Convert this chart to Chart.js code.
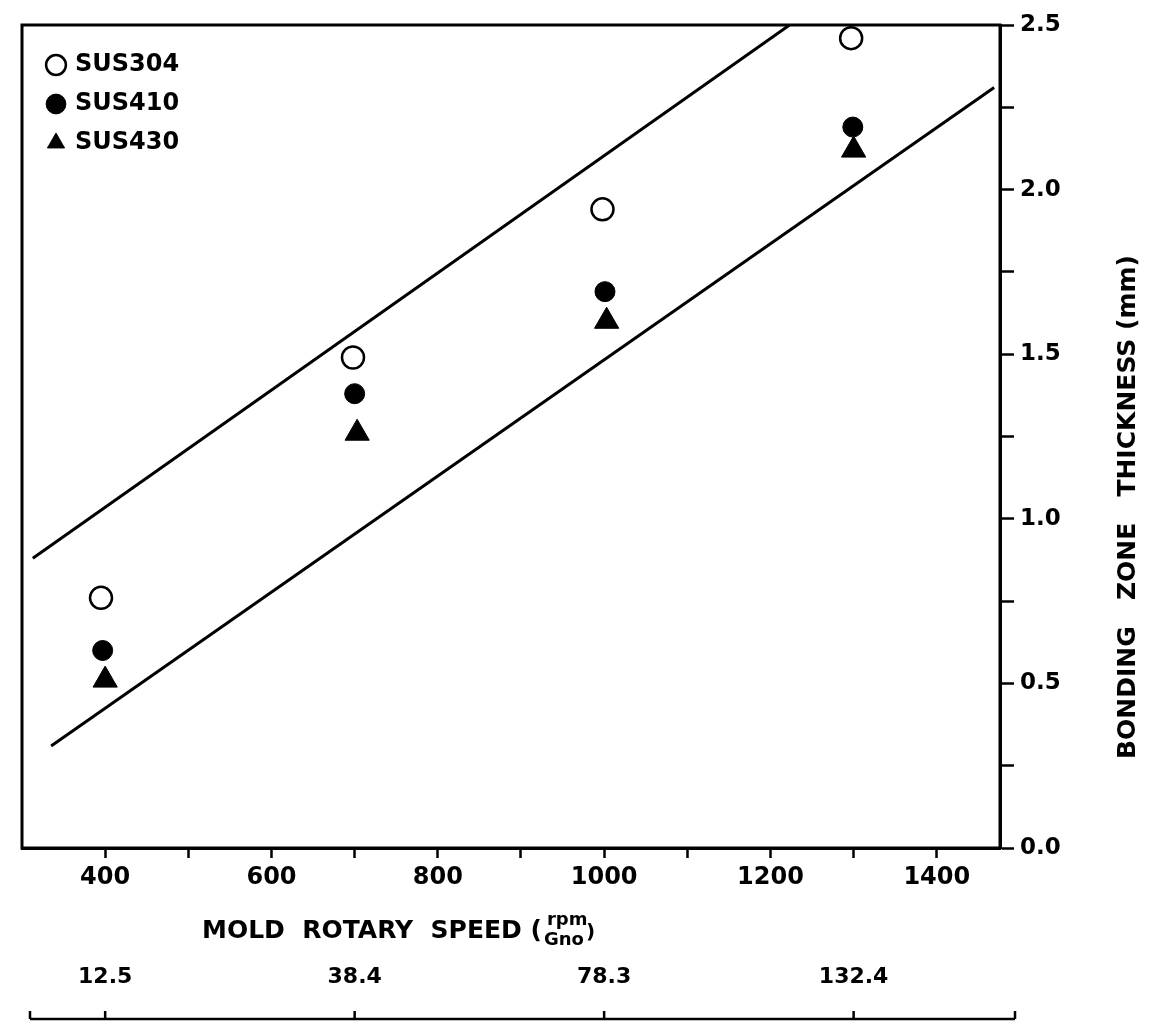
<!DOCTYPE html>
<html lang="en">
<head>
    <meta charset="UTF-8">
    <title>Bonding zone thickness vs mold rotary speed</title>
    <script src="https://cdn.jsdelivr.net/npm/chart.js"></script>
    <style>
        body {
            margin: 0;
            padding: 0;
            background-color: #ffffff;
        }
        canvas {
            display: block;
        }
    </style>
</head>
<body>
    <canvas id="thicknessChart" width="1164" height="1024"></canvas>

    <script>
        // Mold rotary speed (rpm) ticks; every other one gets a label
        const rpmTicks = [400, 500, 600, 700, 800, 900, 1000, 1100, 1200, 1300, 1400];
        const rpmLabelled = [400, 600, 800, 1000, 1200, 1400];

        // Gno values under the speeds that were tested
        const gnoAt = [400, 700, 1000, 1300];
        const gnoLabels = ['12.5', '38.4', '78.3', '132.4'];

        // Bonding zone thickness (mm) per steel grade
        const sus304X = [395, 698, 998, 1297];
        const sus304Y = [0.76, 1.49, 1.94, 2.46];
        const sus410X = [397, 700, 1001, 1299];
        const sus410Y = [0.60, 1.38, 1.69, 2.19];
        const sus430X = [400, 703, 1003, 1300];
        const sus430Y = [0.51, 1.26, 1.60, 2.12];

        // Upper and lower bounds of the band
        const upperX = [313, 1223];
        const upperY = [0.88, 2.5];
        const lowerX = [335, 1469];
        const lowerY = [0.31, 2.31];

        const FONT = 'DejaVu Sans';

        function toPoints(xs, ys) {
            return xs.map((x, i) => ({ x: x, y: ys[i] }));
        }

        // Legend sits in the top-left corner inside the frame
        const legendSpot = {
            id: 'legendSpot',
            afterLayout(chart) {
                const lg = chart.legend;
                lg.left = 34;
                lg.top = 38;
                lg.right = lg.left + lg.width;
                lg.bottom = lg.top + lg.height;
            }
        };

        // Box around the plot plus the axis titles and the Gno scale line
        const decorations = {
            id: 'decorations',
            afterDraw(chart) {
                const ctx = chart.ctx;
                const area = chart.chartArea;
                const xScale = chart.scales.x;
                const gScale = chart.scales.gno;
                ctx.save();
                ctx.strokeStyle = '#000';
                ctx.lineWidth = 3;
                ctx.strokeRect(area.left, area.top, area.right - area.left, area.bottom - area.top);

                // x title with the rpm / Gno fraction
                ctx.fillStyle = '#000';
                ctx.textBaseline = 'middle';
                ctx.textAlign = 'left';
                ctx.font = 'bold 25px ' + FONT;
                const titleY = xScale.top + 83;
                const mainText = 'MOLD  ROTARY  SPEED (';
                const startX = area.left + 180;
                ctx.fillText(mainText, startX, titleY);
                const fracX = startX + ctx.measureText(mainText).width + 2;
                ctx.font = 'bold 18px ' + FONT;
                ctx.fillText('rpm', fracX + 3, titleY - 11);
                ctx.fillText('Gno', fracX, titleY + 9);
                const fracW = ctx.measureText('Gno').width;
                ctx.font = 'bold 20px ' + FONT;
                ctx.fillText(')', fracX + fracW + 2, titleY + 2);

                // y title, read from bottom to top
                ctx.save();
                ctx.translate(area.right + 128, 507);
                ctx.rotate(-Math.PI / 2);
                ctx.textAlign = 'center';
                ctx.font = 'bold 25px ' + FONT;
                ctx.fillText('BONDING   ZONE   THICKNESS (mm)', 0, 0);
                ctx.restore();

                // Gno scale line with small upward ticks
                const lineY = gScale.bottom + 19;
                const lineLeft = area.left + 8;
                const lineRight = area.right + 15;
                ctx.lineWidth = 2.5;
                ctx.beginPath();
                ctx.moveTo(lineLeft, lineY);
                ctx.lineTo(lineRight, lineY);
                const tickXs = [lineLeft, lineRight].concat(gnoAt.map(v => gScale.getPixelForValue(v)));
                tickXs.forEach(px => {
                    ctx.moveTo(px, lineY);
                    ctx.lineTo(px, lineY - 8);
                });
                ctx.stroke();
                ctx.restore();
            }
        };

        const ctx = document.getElementById('thicknessChart').getContext('2d');
        const chart = new Chart(ctx, {
            type: 'scatter',
            data: {
                datasets: [
                    {
                        label: 'SUS304',
                        data: toPoints(sus304X, sus304Y),
                        pointStyle: 'circle',
                        pointRadius: 11,
                        borderWidth: 2.5,
                        borderColor: '#000',
                        backgroundColor: '#fff'
                    },
                    {
                        label: 'SUS410',
                        data: toPoints(sus410X, sus410Y),
                        pointStyle: 'circle',
                        pointRadius: 10,
                        borderWidth: 1,
                        borderColor: '#000',
                        backgroundColor: '#000'
                    },
                    {
                        label: 'SUS430',
                        data: toPoints(sus430X, sus430Y),
                        pointStyle: 'triangle',
                        pointRadius: 14,
                        borderWidth: 1,
                        borderColor: '#000',
                        backgroundColor: '#000'
                    },
                    {
                        label: 'upper',
                        data: toPoints(upperX, upperY),
                        showLine: true,
                        pointRadius: 0,
                        borderColor: '#000',
                        borderWidth: 3
                    },
                    {
                        label: 'lower',
                        data: toPoints(lowerX, lowerY),
                        showLine: true,
                        pointRadius: 0,
                        borderColor: '#000',
                        borderWidth: 3
                    }
                ]
            },
            options: {
                responsive: false,
                animation: false,
                layout: {
                    padding: { left: 22, top: 25, right: 0, bottom: 24 }
                },
                plugins: {
                    tooltip: { enabled: false },
                    legend: {
                        position: 'chartArea',
                        align: 'start',
                        labels: {
                            usePointStyle: true,
                            boxWidth: 14,
                            boxHeight: 14,
                            padding: 15,
                            color: '#000',
                            font: { family: FONT, size: 24, weight: 'bold' },
                            filter: item => item.datasetIndex < 3
                        }
                    }
                },
                scales: {
                    x: {
                        type: 'linear',
                        position: 'bottom',
                        min: 300,
                        max: 1476,
                        afterBuildTicks: scale => {
                            scale.ticks = rpmTicks.map(v => ({ value: v }));
                        },
                        afterFit: scale => {
                            scale.height = 112;
                        },
                        grid: {
                            drawOnChartArea: false,
                            drawTicks: true,
                            tickLength: 10,
                            tickWidth: 2.5,
                            tickColor: '#000'
                        },
                        border: { color: '#000', width: 3 },
                        ticks: {
                            padding: 5,
                            color: '#000',
                            maxRotation: 0,
                            autoSkip: false,
                            font: { family: FONT, size: 24, weight: 'bold' },
                            callback: v => rpmLabelled.includes(v) ? String(v) : ''
                        }
                    },
                    gno: {
                        type: 'linear',
                        position: 'bottom',
                        min: 300,
                        max: 1476,
                        afterBuildTicks: scale => {
                            scale.ticks = gnoAt.map(v => ({ value: v }));
                        },
                        afterFit: scale => {
                            scale.height = 40;
                        },
                        grid: { display: false, drawTicks: false },
                        border: { display: false },
                        ticks: {
                            padding: 4,
                            color: '#000',
                            maxRotation: 0,
                            autoSkip: false,
                            font: { family: FONT, size: 22, weight: 'bold' },
                            callback: v => gnoLabels[gnoAt.indexOf(v)]
                        }
                    },
                    y: {
                        type: 'linear',
                        position: 'right',
                        min: 0,
                        max: 2.5,
                        afterFit: scale => {
                            scale.width = 164;
                        },
                        grid: {
                            drawOnChartArea: false,
                            drawTicks: true,
                            tickLength: 14,
                            tickWidth: 2.5,
                            tickColor: '#000'
                        },
                        border: { color: '#000', width: 3 },
                        ticks: {
                            stepSize: 0.25,
                            padding: 6,
                            color: '#000',
                            autoSkip: false,
                            font: { family: FONT, size: 23, weight: 'bold' },
                            callback: v => (Math.abs(v * 2 - Math.round(v * 2)) < 1e-6) ? v.toFixed(1) : ''
                        }
                    }
                }
            },
            plugins: [legendSpot, decorations]
        });
    </script>
</body>
</html>
